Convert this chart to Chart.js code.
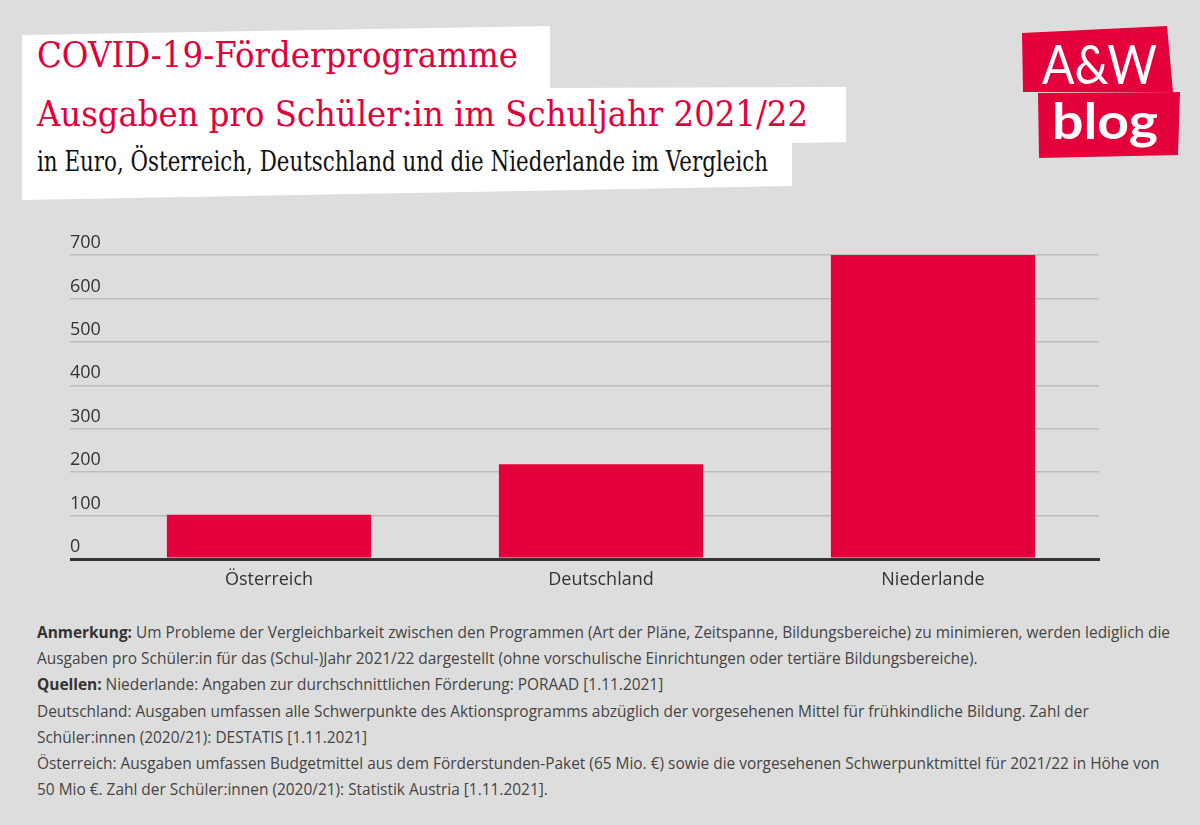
<!DOCTYPE html>
<html lang="de">
<head>
<meta charset="utf-8">
<script src="https://cdn.jsdelivr.net/npm/chart.js@4/dist/chart.umd.min.js"></script>
<style>
  html, body { margin: 0; padding: 0; }
  body { width: 1200px; height: 825px; background: #dddddd; position: relative; overflow: hidden; font-family: "Open Sans", sans-serif; }
  .whitebox { position: absolute; left: 0; top: 0; width: 1200px; height: 260px; background: #ffffff;
    clip-path: polygon(22px 35px, 550px 26px, 550px 88px, 846px 87px, 846px 142px, 792px 143px, 792px 186px, 22px 200px); }
  .t { position: absolute; left: 37px; white-space: nowrap; font-family: "DejaVu Serif", serif; transform-origin: 0 50%; }
  .t1 { color: #e2003b; font-size: 36px; line-height: 40px; top: 35px; }
  .t2 { color: #e2003b; font-size: 36px; line-height: 40px; top: 94px; }
  .t3 { color: #111; font-size: 27px; line-height: 32px; top: 146px; }
  .logo1 { position: absolute; left: 0; top: 0; width: 1200px; height: 200px; background: #e4003a;
    clip-path: polygon(1022px 33px, 1167px 26px, 1173px 92px, 1023px 92px); }
  .logo2 { position: absolute; left: 0; top: 0; width: 1200px; height: 200px; background: #e4003a;
    clip-path: polygon(1038px 93px, 1180px 92px, 1178px 155px, 1039px 158px); }
  .lt { position: absolute; color: #fff; white-space: nowrap; transform-origin: 0 50%; font-family: "Lato", "Open Sans", sans-serif; }
  .aw { left: 1042px; top: 34px; font-size: 54px; line-height: 60px; font-weight: 400; }
  .blog { left: 1052px; top: 92px; font-size: 50px; line-height: 56px; font-weight: 700; }
  #chartWrap { position: absolute; left: 0; top: 230px; width: 1200px; height: 370px; }
  .notes { position: absolute; left: 37px; top: 619px; color: #444; font-size: 16px; line-height: 26.2px; }
  .notes div { white-space: nowrap; transform-origin: 0 50%; }
  .notes b { color: #333; font-weight: 700; }
</style>
</head>
<body>
<div class="whitebox"></div>
<div class="t t1" data-w="481">COVID-19-Förderprogramme</div>
<div class="t t2" data-w="771">Ausgaben pro Schüler:in im Schuljahr 2021/22</div>
<div class="t t3" data-w="731">in Euro, Österreich, Deutschland und die Niederlande im Vergleich</div>

<div class="logo1"></div>
<div class="logo2"></div>
<div class="lt aw" data-w="115">A&amp;W</div>
<div class="lt blog" data-w="106">blog</div>

<div id="chartWrap"><canvas id="c" width="1200" height="370"></canvas></div>

<div class="notes" id="notes">
  <div id="n1"><b>Anmerkung:</b> Um Probleme der Vergleichbarkeit zwischen den Programmen (Art der Pläne, Zeitspanne, Bildungsbereiche) zu minimieren, werden lediglich die</div>
  <div>Ausgaben pro Schüler:in für das (Schul-)Jahr 2021/22 dargestellt (ohne vorschulische Einrichtungen oder tertiäre Bildungsbereiche).</div>
  <div><b>Quellen:</b> Niederlande: Angaben zur durchschnittlichen Förderung: PORAAD [1.11.2021]</div>
  <div>Deutschland: Ausgaben umfassen alle Schwerpunkte des Aktionsprogramms abzüglich der vorgesehenen Mittel für frühkindliche Bildung. Zahl der</div>
  <div>Schüler:innen (2020/21): DESTATIS [1.11.2021]</div>
  <div>Österreich: Ausgaben umfassen Budgetmittel aus dem Förderstunden-Paket (65 Mio. €) sowie die vorgesehenen Schwerpunktmittel für 2021/22 in Höhe von</div>
  <div>50 Mio €. Zahl der Schüler:innen (2020/21): Statistik Austria [1.11.2021].</div>
</div>

<script>
const categories = ['Österreich', 'Deutschland', 'Niederlande'];
const values = [102, 218, 700];
const yTicks = [0, 100, 200, 300, 400, 500, 600, 700];

// fit text widths
document.querySelectorAll('[data-w]').forEach(el => {
  const w = el.getBoundingClientRect().width;
  const target = +el.dataset.w;
  el.style.transform = 'scaleX(' + (target / w) + ')';
});
(function () {
  const n1 = document.getElementById('n1');
  const w = n1.getBoundingClientRect().width;
  const s = 1133 / w;
  document.querySelectorAll('#notes div').forEach(d => d.style.transform = 'scaleX(' + s + ')');
})();

const isZero = ctx => ctx.tick && ctx.tick.value === 0;

new Chart(document.getElementById('c'), {
  type: 'bar',
  data: {
    labels: categories,
    datasets: [{
      data: values,
      backgroundColor: '#e4003a',
      borderWidth: 0,
      categoryPercentage: 1.0,
      barPercentage: 0.615
    }]
  },
  options: {
    responsive: false,
    devicePixelRatio: 1,
    animation: false,
    layout: { padding: { left: 70, right: 101, top: 25, bottom: 0 } },
    plugins: { legend: { display: false }, tooltip: { enabled: false } },
    scales: {
      x: {
        z: 1,
        grid: { display: false, drawTicks: false },
        border: { display: true, color: '#333333', width: 3 },
        ticks: { color: '#333333', font: { family: 'Open Sans', size: 18 }, padding: 10 },
        afterFit: s => { s.height = 41; }
      },
      y: {
        min: 0,
        max: 700,
        afterBuildTicks: s => { s.ticks = yTicks.map(v => ({ value: v })); },
        afterFit: s => { s.width = 33; },
        border: { display: false },
        grid: {
          color: ctx => isZero(ctx) ? '#333333' : '#bdbdbd',
          lineWidth: ctx => isZero(ctx) ? 3 : 1.5,
          tickColor: ctx => isZero(ctx) ? '#333333' : '#bdbdbd',
          tickWidth: ctx => isZero(ctx) ? 3 : 1.5,
          tickLength: 33,
          drawTicks: true
        },
        ticks: {
          color: '#333333',
          font: { family: 'Open Sans', size: 18 },
          crossAlign: 'far',
          labelOffset: -12,
          padding: 0
        }
      }
    }
  }
});
</script>
</body>
</html>
